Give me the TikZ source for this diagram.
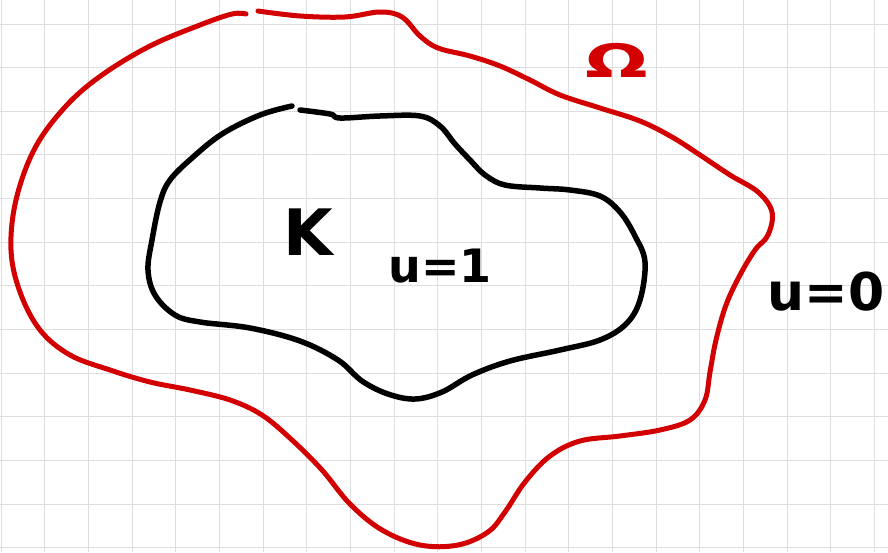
\documentclass[tikz,border=0pt]{standalone}
\usepackage{fontspec}
\setmainfont{DejaVu Sans}
\definecolor{penred}{HTML}{D20000}
\definecolor{gridgray}{HTML}{DEDEDE}
\begin{document}
\begin{tikzpicture}[x=1pt,y=-1pt,
  gridline/.style={draw=gridgray,line width=1pt},
  redpen/.style={draw=penred,line width=5pt,line cap=round,line join=round},
  blackpen/.style={draw=black,line width=5.5pt,line cap=round,line join=round},
  handlabel/.style={inner sep=0pt,anchor=center}]
\useasboundingbox[fill=white] (0,0) rectangle (888,552);
\foreach \i in {0,...,20} {\pgfmathsetmacro{\gx}{1.3+43.65*\i}\draw[gridline] (\gx,0) -- (\gx,552);}
\foreach \j in {0,...,12} {\pgfmathsetmacro{\gy}{24+43.65*\j}\draw[gridline] (0,\gy) -- (888,\gy);}
% outer red curve Omega
\draw[redpen] plot[smooth,tension=0.6] coordinates {
 (258,11) (300,16) (345,17) (380,12) (402,17) (420,36) (438,48) (470,56) (500,66)
 (530,80) (560,95) (600,108) (640,121) (672,137) (700,155) (730,175) (758,192)
 (772,212) (768,235) (755,250) (740,275) (726,305) (716,340) (710,372) (705,400)
 (690,420) (660,430) (620,436) (580,441) (550,456) (525,482) (505,512) (488,532)
 (458,545) (420,545) (382,530) (350,504) (322,470) (292,440) (262,415) (230,400)
 (190,390) (150,382) (110,370) (70,355) (40,330) (20,292) (11,250) (16,200)
 (35,148) (66,106) (102,75) (150,46) (200,25) (232,14) (246,14)};
% inner black curve K
\draw[blackpen] plot[smooth,tension=0.6] coordinates {
 (292,106) (260,115) (222,134) (192,158) (170,180) (160,202) (152,240) (148,270)
 (155,295) (175,315) (200,322) (250,328) (300,341) (338,360) (362,381) (388,394)
 (415,399) (442,392) (472,375) (510,361) (560,350) (600,340) (626,324) (640,300)
 (645,262) (635,236) (620,212) (600,196) (570,190) (540,188) (505,185) (485,175)
 (470,160) (455,144) (440,126) (420,116) (380,116) (340,118) (330,114) (300,110)};
\node[handlabel,font=\bfseries\fontsize{64}{66}\selectfont] (klabel) at (308,232) {K};
\node[handlabel,font=\bfseries\fontsize{46}{48}\selectfont] (uone) at (440,266) {u=1};
\node[handlabel,font=\bfseries\fontsize{52}{54}\selectfont] (uzero) at (826,292) {u=0};
\node[handlabel,text=penred,font=\bfseries\fontsize{46}{48}\selectfont,xscale=1.6] (omega) at (617,60) {Ω};
\end{tikzpicture}
\end{document}
